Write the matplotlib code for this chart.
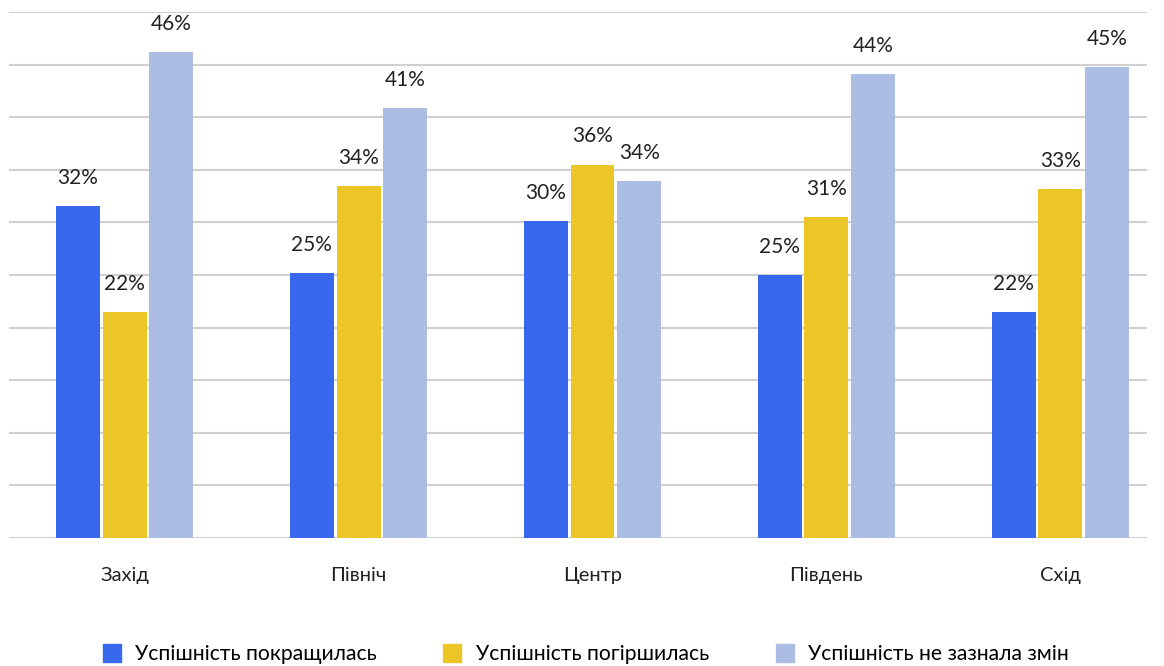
import matplotlib.pyplot as plt
from matplotlib.lines import Line2D
import numpy as np

plt.rcParams['font.family'] = ['Lato', 'DejaVu Sans']

regions = ['Захід', 'Північ', 'Центр', 'Південь', 'Схід']
series_names = ['Успішність покращилась', 'Успішність погіршилась', 'Успішність не зазнала змін']
improved = [31.6, 25.2, 30.1, 25.0, 21.5]
worse = [21.5, 33.5, 35.5, 30.5, 33.2]
same = [46.2, 40.9, 33.9, 44.1, 44.8]
improved_labels = ['32%', '25%', '30%', '25%', '22%']
worse_labels = ['22%', '34%', '36%', '31%', '33%']
same_labels = ['46%', '41%', '34%', '44%', '45%']

colors = ['#3868EE', '#ECC627', '#ABBDE3']

fig = plt.figure(figsize=(11.64, 6.66), dpi=100)
ax = fig.add_axes([9 / 1164, 1 - 538 / 666, 1138 / 1164, 526 / 666])

x = np.arange(len(regions))
w = 0.188
step = 0.2
series = [(improved, improved_labels), (worse, worse_labels), (same, same_labels)]
for i, (vals, labs) in enumerate(series):
    pos = x + (i - 1) * step
    ax.bar(pos, vals, width=w, color=colors[i], zorder=2)
    for p, v, t in zip(pos, vals, labs):
        ax.annotate(t, (p, v), xytext=(0, 13), textcoords='offset points',
                    ha='center', va='bottom', fontsize=15, color='#222222')

ax.set_ylim(0, 50)
ax.set_yticks(np.arange(0, 51, 5))
ax.yaxis.grid(True, color='#D0D0D0', linewidth=1.5, zorder=0)
ax.set_axisbelow(True)
ax.set_xlim(-0.494, 4.37)
ax.set_xticks(x)
ax.set_xticklabels(regions, fontsize=14.5, color='#222222')
ax.tick_params(axis='x', length=0, pad=21)
ax.tick_params(axis='y', length=0, labelleft=False)
for s in ax.spines.values():
    s.set_visible(False)

handles = [Line2D([], [], marker='s', linestyle='none', markersize=13,
                  markerfacecolor=c, markeredgecolor=c) for c in colors]
fig.legend(handles, series_names, loc='center', bbox_to_anchor=(0.498, 1 - 654 / 666),
           ncol=3, frameon=False, fontsize=15.2, handletextpad=0.1, columnspacing=2.6)

fig.savefig('out.png', dpi=100)
